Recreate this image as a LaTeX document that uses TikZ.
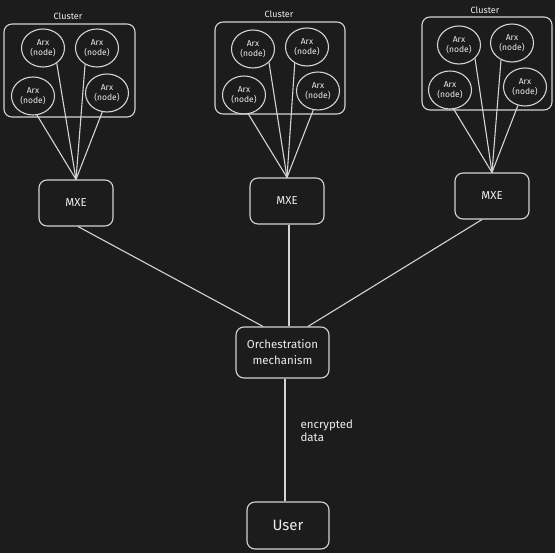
\documentclass[tikz,border=0pt]{standalone}
\usepackage{fontspec}
\setmainfont{Fira Sans}
\usetikzlibrary{shapes.geometric}
\definecolor{bg}{HTML}{1C1C1C}
\definecolor{ink}{HTML}{D4D4D4}
\definecolor{txt}{HTML}{EDEDED}
\begin{document}
\begin{tikzpicture}[x=1pt,y=-1pt,
  line width=1.1pt,
  every node/.style={text=txt},
  arx/.style={draw=ink, ellipse, minimum width=43pt, minimum height=38pt, inner sep=0pt,
    align=center, font=\fontsize{8.5}{10}\selectfont},
  clusterbox/.style={draw=ink, rounded corners=8pt, line width=1.1pt},
  clabel/.style={font=\fontsize{9}{10}\selectfont},
  mxebox/.style={draw=ink, rounded corners=8pt, minimum width=74pt, minimum height=46pt,
    inner sep=0pt, font=\fontsize{11.5}{13}\selectfont},
  link/.style={draw=ink, line width=1.1pt},
]
\fill[bg] (0,0) rectangle (555,553);
\useasboundingbox (0,0) rectangle (555,553);

% Cluster 1
\draw[clusterbox] (4,24) rectangle (135,117);
\node[clabel] (l1) at (68,16) {Cluster};
\node[arx] (a11) at (43,48) {Arx\\(node)};
\node[arx] (a12) at (97,48) {Arx\\(node)};
\node[arx] (a13) at (33,96) {Arx\\(node)};
\node[arx] (a14) at (107,93) {Arx\\(node)};
\node[mxebox] (m1) at (76,203) {MXE};

% Cluster 2
\draw[clusterbox] (215,22) rectangle (345,114);
\node[clabel] (l2) at (279,14) {Cluster};
\node[arx] (a21) at (253,49) {Arx\\(node)};
\node[arx] (a22) at (307,47) {Arx\\(node)};
\node[arx] (a23) at (244,95) {Arx\\(node)};
\node[arx] (a24) at (318,91) {Arx\\(node)};
\node[mxebox] (m2) at (287,201) {MXE};

% Cluster 3
\draw[clusterbox] (422,17) rectangle (552,110);
\node[clabel] (l3) at (485,10) {Cluster};
\node[arx] (a31) at (459,45) {Arx\\(node)};
\node[arx] (a32) at (512,43) {Arx\\(node)};
\node[arx] (a33) at (450,90) {Arx\\(node)};
\node[arx] (a34) at (525,87) {Arx\\(node)};
\node[mxebox] (m3) at (492,196) {MXE};

% Orchestration and user
\node[draw=ink, rounded corners=8pt, minimum width=93pt, minimum height=51pt, inner sep=0pt,
  align=center, font=\fontsize{11.5}{16}\selectfont] (orch) at (282.5,352.5)
  {Orchestration\\mechanism};
\node[draw=ink, rounded corners=8pt, minimum width=82pt, minimum height=47pt, inner sep=0pt,
  font=\fontsize{15}{18}\selectfont] (user) at (288,525.5) {User};
\node[anchor=west, align=left, inner sep=0pt, font=\fontsize{11.5}{13.5}\selectfont] (enc)
  at (300,431) {encrypted\\data};

% cluster links
\draw[link] (a11.-48) -- (m1.north);
\draw[link] (a12.-126) -- (m1.north);
\draw[link] (a13.-78) -- (m1.north);
\draw[link] (a14.-104) -- (m1.north);

\draw[link] (a21.-40) -- (m2.north);
\draw[link] (a22.-127) -- (m2.north);
\draw[link] (a23.-77) -- (m2.north);
\draw[link] (a24.-104) -- (m2.north);

\draw[link] (a31.-40) -- (m3.north);
\draw[link] (a32.-123) -- (m3.north);
\draw[link] (a33.-79) -- (m3.north);
\draw[link] (a34.-111) -- (m3.north);

% MXE to orchestration
\draw[link] ([xshift=2pt]m1.south) -- ([xshift=-19.5pt]orch.north);
\draw[link] ([xshift=2pt]m2.south) -- ([xshift=2pt]m2.south |- orch.north);
\draw[link] ([xshift=-10pt]m3.south) -- ([xshift=25.5pt]orch.north);

% orchestration to user
\draw[link] ([xshift=2.5pt]orch.south) -- ([xshift=2.5pt]orch.south |- user.north);
\end{tikzpicture}
\end{document}
